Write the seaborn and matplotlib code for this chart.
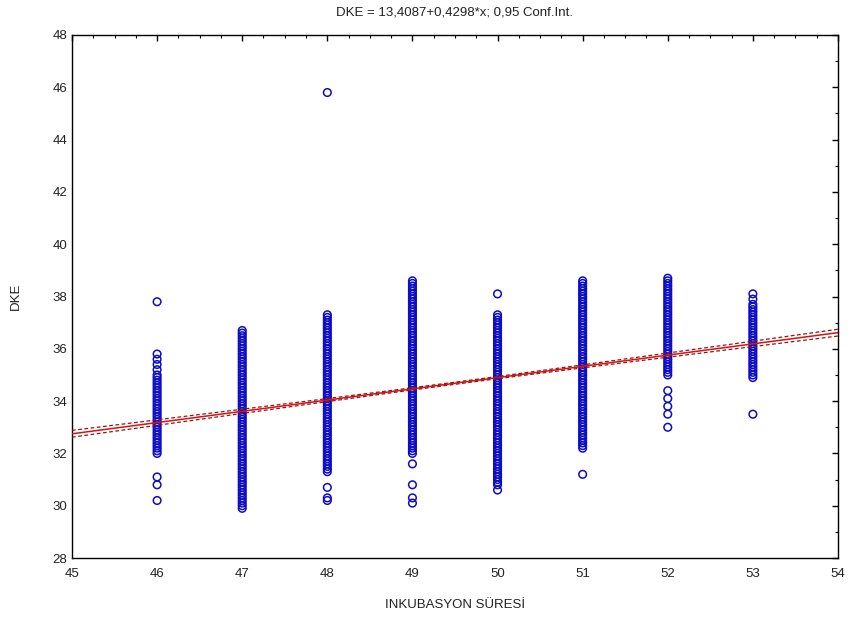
import numpy as np
import pandas as pd
import matplotlib
matplotlib.use("Agg")
import matplotlib.pyplot as plt
import seaborn as sns
from matplotlib.ticker import MultipleLocator

# ---- data ----
dke_46 = [37.8, 35.8, 35.6, 35.4, 35.2, 35.0, 34.9, 34.8, 34.7, 34.6, 34.5, 34.4, 34.3, 34.2, 34.1,
          34.0, 33.9, 33.8, 33.7, 33.6, 33.5, 33.4, 33.3, 33.2, 33.1, 33.0, 32.9, 32.8, 32.7, 32.6,
          32.5, 32.4, 32.3, 32.2, 32.1, 32.0, 31.1, 30.8, 30.2]
dke_47 = [36.7, 36.6, 36.5, 36.4, 36.3, 36.2, 36.1, 36.0, 35.9, 35.8, 35.7, 35.6, 35.5, 35.4, 35.3,
          35.2, 35.1, 35.0, 34.9, 34.8, 34.7, 34.6, 34.5, 34.4, 34.3, 34.2, 34.1, 34.0, 33.9, 33.8,
          33.7, 33.6, 33.5, 33.4, 33.3, 33.2, 33.1, 33.0, 32.9, 32.8, 32.7, 32.6, 32.5, 32.4, 32.3,
          32.2, 32.1, 32.0, 31.9, 31.8, 31.7, 31.6, 31.5, 31.4, 31.3, 31.2, 31.1, 31.0, 30.9, 30.8,
          30.7, 30.6, 30.5, 30.4, 30.3, 30.2, 30.1, 30.0, 29.9]
dke_48 = [45.8, 37.3, 37.2, 37.1, 37.0, 36.9, 36.8, 36.7, 36.6, 36.5, 36.4, 36.3, 36.2, 36.1, 36.0,
          35.9, 35.8, 35.7, 35.6, 35.5, 35.4, 35.3, 35.2, 35.1, 35.0, 34.9, 34.8, 34.7, 34.6, 34.5,
          34.4, 34.3, 34.2, 34.1, 34.0, 33.9, 33.8, 33.7, 33.6, 33.5, 33.4, 33.3, 33.2, 33.1, 33.0,
          32.9, 32.8, 32.7, 32.6, 32.5, 32.4, 32.3, 32.2, 32.1, 32.0, 31.9, 31.8, 31.7, 31.6, 31.5,
          31.4, 31.3, 30.7, 30.3, 30.2]
dke_49 = [38.6, 38.5, 38.4, 38.3, 38.2, 38.1, 38.0, 37.9, 37.8, 37.7, 37.6, 37.5, 37.4, 37.3, 37.2,
          37.1, 37.0, 36.9, 36.8, 36.7, 36.6, 36.5, 36.4, 36.3, 36.2, 36.1, 36.0, 35.9, 35.8, 35.7,
          35.6, 35.5, 35.4, 35.3, 35.2, 35.1, 35.0, 34.9, 34.8, 34.7, 34.6, 34.5, 34.4, 34.3, 34.2,
          34.1, 34.0, 33.9, 33.8, 33.7, 33.6, 33.5, 33.4, 33.3, 33.2, 33.1, 33.0, 32.9, 32.8, 32.7,
          32.6, 32.5, 32.4, 32.3, 32.2, 32.1, 32.0, 31.6, 30.8, 30.3, 30.1]
dke_50 = [38.1, 37.3, 37.2, 37.1, 37.0, 36.9, 36.8, 36.7, 36.6, 36.5, 36.4, 36.3, 36.2, 36.1, 36.0,
          35.9, 35.8, 35.7, 35.6, 35.5, 35.4, 35.3, 35.2, 35.1, 35.0, 34.9, 34.8, 34.7, 34.6, 34.5,
          34.4, 34.3, 34.2, 34.1, 34.0, 33.9, 33.8, 33.7, 33.6, 33.5, 33.4, 33.3, 33.2, 33.1, 33.0,
          32.9, 32.8, 32.7, 32.6, 32.5, 32.4, 32.3, 32.2, 32.1, 32.0, 31.9, 31.8, 31.7, 31.6, 31.5,
          31.4, 31.3, 31.2, 31.1, 31.0, 30.9, 30.8, 30.6]
dke_51 = [38.6, 38.5, 38.4, 38.3, 38.2, 38.1, 38.0, 37.9, 37.8, 37.7, 37.6, 37.5, 37.4, 37.3, 37.2,
          37.1, 37.0, 36.9, 36.8, 36.7, 36.6, 36.5, 36.4, 36.3, 36.2, 36.1, 36.0, 35.9, 35.8, 35.7,
          35.6, 35.5, 35.4, 35.3, 35.2, 35.1, 35.0, 34.9, 34.8, 34.7, 34.6, 34.5, 34.4, 34.3, 34.2,
          34.1, 34.0, 33.9, 33.8, 33.7, 33.6, 33.5, 33.4, 33.3, 33.2, 33.1, 33.0, 32.9, 32.8, 32.7,
          32.6, 32.5, 32.4, 32.3, 32.2, 31.2]
dke_52 = [38.7, 38.6, 38.5, 38.4, 38.3, 38.2, 38.1, 38.0, 37.9, 37.8, 37.7, 37.6, 37.5, 37.4, 37.3,
          37.2, 37.1, 37.0, 36.9, 36.8, 36.7, 36.6, 36.5, 36.4, 36.3, 36.2, 36.1, 36.0, 35.9, 35.8,
          35.7, 35.6, 35.5, 35.4, 35.3, 35.2, 35.1, 35.0, 34.4, 34.1, 33.8, 33.5, 33.0]
dke_53 = [38.1, 37.9, 37.7, 37.6, 37.5, 37.4, 37.3, 37.2, 37.1, 37.0, 36.9, 36.8, 36.7, 36.6, 36.5,
          36.4, 36.3, 36.2, 36.1, 36.0, 35.9, 35.8, 35.7, 35.6, 35.5, 35.4, 35.3, 35.2, 35.1, 35.0,
          34.9, 33.5]

incubation_days = [46, 47, 48, 49, 50, 51, 52, 53]
dke_columns = [dke_46, dke_47, dke_48, dke_49, dke_50, dke_51, dke_52, dke_53]

# regression reported in the title
intercept = 13.4087
slope = 0.4298
# 95% confidence band half-width (centre of x, and at the axis ends)
ci_centre_x = 49.5
ci_half_centre = 0.04
ci_half_edge = 0.13

x_ticks = [45, 46, 47, 48, 49, 50, 51, 52, 53, 54]
y_ticks = [28, 30, 32, 34, 36, 38, 40, 42, 44, 46, 48]

# ---- build table ----
rows = []
for d, col in zip(incubation_days, dke_columns):
    for v in col:
        rows.append((d, v))
df = pd.DataFrame(rows, columns=["INKUBASYON SÜRESİ", "DKE"])

xg = np.linspace(x_ticks[0], x_ticks[-1], 200)
yg = intercept + slope * xg
edge_dx = x_ticks[-1] - ci_centre_x
half = np.sqrt(ci_half_centre ** 2 +
               (ci_half_edge ** 2 - ci_half_centre ** 2) * ((xg - ci_centre_x) / edge_dx) ** 2)

# ---- plot ----
sns.set_style("white")
plt.rcParams["font.family"] = ["Liberation Sans", "DejaVu Sans"]

fig = plt.figure(figsize=(8.53, 6.26), dpi=100)
ax = fig.add_axes([0.0844, 0.1086, 0.8980, 0.8355])

sns.scatterplot(data=df, x="INKUBASYON SÜRESİ", y="DKE", ax=ax,
                marker="o", s=30, facecolors="none", edgecolor="#0c0cc4",
                linewidth=1.1, zorder=2)
sns.lineplot(x=xg, y=yg, ax=ax, color="#d01515", linewidth=1.1, zorder=3)
sns.lineplot(x=xg, y=yg + half, ax=ax, color="#a01010", linewidth=0.9,
             linestyle=(0, (3, 2)), zorder=3)
sns.lineplot(x=xg, y=yg - half, ax=ax, color="#a01010", linewidth=0.9,
             linestyle=(0, (3, 2)), zorder=3)

ax.set_xlim(x_ticks[0], x_ticks[-1])
ax.set_ylim(y_ticks[0], y_ticks[-1])
ax.set_xticks(x_ticks)
ax.set_yticks(y_ticks)
ax.xaxis.set_minor_locator(MultipleLocator(0.25))
ax.yaxis.set_minor_locator(MultipleLocator(1))
ax.tick_params(which="both", direction="in", top=True, right=True,
               labelsize=9.5, colors="black", labelcolor="#222222")
ax.tick_params(which="major", length=4, width=1)
ax.tick_params(which="minor", length=2.5, width=0.8)
ax.tick_params(axis="x", pad=7)
for sp in ax.spines.values():
    sp.set_visible(True)
    sp.set_color("black")
    sp.set_linewidth(1.0)

ax.set_xlabel("INKUBASYON SÜRESİ", fontsize=9.5, color="#222222", labelpad=14)
ax.set_ylabel("DKE", fontsize=9.5, color="#222222", labelpad=22)
ax.set_title("DKE = 13,4087+0,4298*x; 0,95 Conf.Int.", fontsize=9.5,
             color="#222222", pad=14)

fig.savefig("out.png", dpi=100)
